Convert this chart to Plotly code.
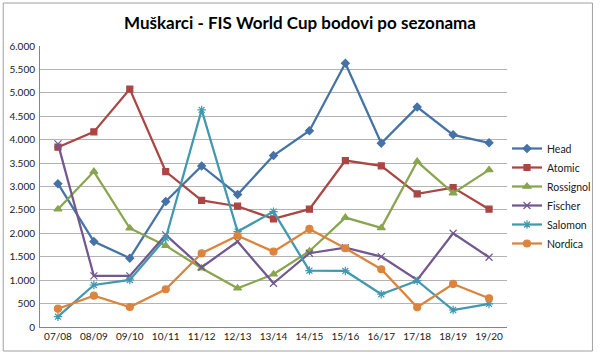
import plotly.graph_objects as go

seasons = ["07/08", "08/09", "09/10", "10/11", "11/12", "12/13", "13/14",
           "14/15", "15/16", "16/17", "17/18", "18/19", "19/20"]
head = [3060, 1823, 1470, 2680, 3440, 2827, 3660, 4190, 5630, 3925, 4695, 4103, 3932]
atomic = [3840, 4167, 5080, 3319, 2705, 2579, 2308, 2515, 3554, 3440, 2842, 2977, 2515]
rossignol = [2515, 3319, 2109, 1737, 1254, 827, 1126, 1618, 2336, 2116, 3532, 2857, 3355]
fischer = [3910, 1090, 1090, 1966, 1276, 1823, 934, 1575, 1695, 1502, 1004, 2002, 1489]
salomon = [220, 897, 1004, 1896, 4637, 2037, 2464, 1203, 1197, 699, 989, 363, 492]
nordica = [391, 669, 427, 806, 1575, 1951, 1609, 2094, 1682, 1233, 421, 919, 613]

series = [
    ("Head", head, "#4572A7", "diamond", 6),
    ("Atomic", atomic, "#AA4643", "square", 6),
    ("Rossignol", rossignol, "#89A54E", "triangle-up", 7),
    ("Fischer", fischer, "#71588F", "x-thin-open", 7),
    ("Salomon", salomon, "#4198AF", "asterisk-open", 7),
    ("Nordica", nordica, "#DB843D", "circle", 7),
]

fig = go.Figure()
for name, vals, color, sym, size in series:
    fig.add_trace(go.Scatter(
        x=seasons, y=vals, name=name, mode="lines+markers",
        line=dict(color=color, width=2.25),
        marker=dict(symbol=sym, size=size, color=color,
                    line=dict(color=color, width=1.2)),
    ))

fig.update_layout(
    width=600, height=357,
    margin=dict(l=40, r=90, t=46, b=30),
    paper_bgcolor="white", plot_bgcolor="white",
    separators=",.",
    font=dict(family="Lato, Open Sans, sans-serif", size=10, color="#202020"),
    title=dict(text="<b>Muškarci - FIS World Cup bodovi po sezonama</b>",
               x=0.5, xanchor="center", y=0.935, yanchor="middle",
               yref="container",
               font=dict(family="Lato, Open Sans, sans-serif", size=17, color="#000000")),
    xaxis=dict(type="category", range=[-0.5, 12.5], showgrid=False,
               automargin=False,
               showline=True, linecolor="#868686", linewidth=1,
               ticks="", tickfont=dict(size=10, color="#202020")),
    yaxis=dict(range=[0, 6000], dtick=500, tickformat=",d",
               automargin=False,
               showgrid=True, gridcolor="#B3B3B3", gridwidth=1,
               showline=True, linecolor="#868686", linewidth=1,
               ticks="", ticklabelstandoff=2,
               zeroline=False, tickfont=dict(size=10, color="#202020")),
    legend=dict(xref="container", yref="container",
                x=507 / 600, xanchor="left", y=(357 - 134) / 357, yanchor="top",
                font=dict(size=10.5, color="#202020"),
                tracegroupgap=0, itemwidth=30, bgcolor="rgba(0,0,0,0)"),
    showlegend=True,
)

fig.add_shape(type="rect", xref="paper", yref="paper",
              x0=(3 - 40) / 470, x1=(596 - 40) / 470,
              y0=(327 - 351) / 281, y1=(327 - 3) / 281,
              line=dict(color="#A0A0A0", width=1), fillcolor="rgba(0,0,0,0)",
              layer="below")

fig.write_html("out.html",
               config={"displayModeBar": False},
               post_script="document.body.style.margin='0';document.body.style.padding='0';")
